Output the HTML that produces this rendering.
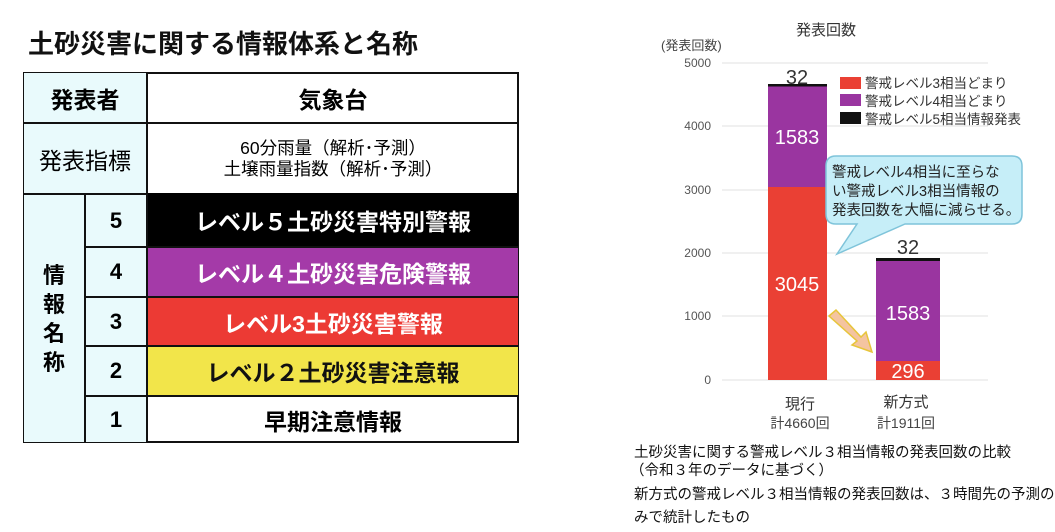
<!DOCTYPE html>
<html><head><meta charset="utf-8"><style>
body{margin:0;width:1055px;height:532px;background:#fff;position:relative;overflow:hidden;font-family:"Liberation Sans","Noto Sans CJK JP",sans-serif}
.a{position:absolute}
.c{position:absolute;display:flex;align-items:center;justify-content:center;box-sizing:border-box;text-align:center;white-space:nowrap}
.b{font-weight:bold}
</style></head><body>
<div class="a b" style="left:28px;top:24px;font-size:26px;color:#111">土砂災害に関する情報体系と名称</div>

<div class="a" style="left:23px;top:72px;width:496px;height:371px;border:2px solid #111;box-sizing:border-box"></div>
<div class="c b" style="left:24px;top:73px;width:124px;height:51px;background:#e9fafc;font-size:23px;border-right:2px solid #111;border-bottom:2px solid #111">発表者</div>
<div class="c b" style="left:148px;top:73px;width:370px;height:51px;font-size:23px;border-bottom:2px solid #111">気象台</div>
<div class="c" style="left:24px;top:124px;width:124px;height:69px;background:#e9fafc;font-size:23px;border-right:2px solid #111">発表指標</div>
<div class="c" style="left:148px;top:124px;width:370px;height:69px;font-size:17.5px;line-height:21px">60分雨量（解析･予測）<br>土壌雨量指数（解析･予測）</div>
<div class="c b" style="left:24px;top:193px;width:62px;height:249px;background:#e9fafc;font-size:22px;line-height:29px;border-right:2px solid #111;border-top:2px solid #111">情<br>報<br>名<br>称</div>

<div class="c b" style="left:86px;top:193px;width:62px;height:53px;background:#e9fafc;font-size:22px;border-right:2px solid #111;border-top:2px solid #111">5</div>
<div class="c b" style="left:148px;top:193px;width:370px;height:53px;background:#000;color:#fff;font-size:23px">レベル５土砂災害特別警報</div>
<div class="c b" style="left:86px;top:246px;width:62px;height:50px;background:#e9fafc;font-size:22px;border-right:2px solid #111;border-top:2px solid #111">4</div>
<div class="c b" style="left:148px;top:246px;width:370px;height:50px;background:#a43aa8;color:#fff;font-size:23px;border-top:2px solid #111">レベル４土砂災害危険警報</div>
<div class="c b" style="left:86px;top:296px;width:62px;height:49px;background:#e9fafc;font-size:22px;border-right:2px solid #111;border-top:2px solid #111">3</div>
<div class="c b" style="left:148px;top:296px;width:370px;height:49px;background:#ec3a34;color:#fff;font-size:23px;border-top:2px solid #111">レベル3土砂災害警報</div>
<div class="c b" style="left:86px;top:345px;width:62px;height:50px;background:#e9fafc;font-size:22px;border-right:2px solid #111;border-top:2px solid #111">2</div>
<div class="c b" style="left:148px;top:345px;width:370px;height:50px;background:#f2e54a;color:#111;font-size:23px;border-top:2px solid #111">レベル２土砂災害注意報</div>
<div class="c b" style="left:86px;top:395px;width:62px;height:47px;background:#e9fafc;font-size:22px;border-right:2px solid #111;border-top:2px solid #111">1</div>
<div class="c b" style="left:148px;top:395px;width:370px;height:47px;font-size:23px;border-top:2px solid #111">早期注意情報</div>

<svg class="a" style="left:0;top:0" width="1055" height="532">
<g font-family="Liberation Sans,Noto Sans CJK JP,sans-serif">
<text x="826" y="35" font-size="15" fill="#333" text-anchor="middle">発表回数</text>
<text x="661" y="50" font-size="13" fill="#444">(発表回数)</text>
<g stroke="#e2e2e2" stroke-width="1">
<line x1="722" x2="988" y1="63" y2="63"/><line x1="722" x2="988" y1="126" y2="126"/>
<line x1="722" x2="988" y1="190" y2="190"/><line x1="722" x2="988" y1="253" y2="253"/>
<line x1="722" x2="988" y1="316" y2="316"/><line x1="722" x2="988" y1="380" y2="380"/></g>
<g font-size="12" fill="#555" text-anchor="end">
<text x="711" y="67">5000</text><text x="711" y="130">4000</text><text x="711" y="194">3000</text>
<text x="711" y="257">2000</text><text x="711" y="320">1000</text><text x="711" y="384">0</text></g>
<rect x="768" y="187" width="59" height="193" fill="#ea4034"/>
<rect x="768" y="86" width="59" height="101" fill="#9a35a0"/>
<rect x="768" y="84" width="59" height="2.5" fill="#111"/>
<rect x="876" y="361" width="64" height="19" fill="#ea4034"/>
<rect x="876" y="261" width="64" height="100" fill="#9a35a0"/>
<rect x="876" y="258" width="64" height="3" fill="#111"/>
<g font-size="20" fill="#fff" text-anchor="middle">
<text x="797" y="144">1583</text><text x="797" y="291">3045</text>
<text x="908" y="320">1583</text><text x="908" y="378">296</text></g>
<g font-size="20" fill="#333" text-anchor="middle"><text x="797" y="84">32</text><text x="908" y="254">32</text></g>
<rect x="840" y="77" width="21" height="12" fill="#ea4034"/>
<rect x="840" y="94" width="21" height="12" fill="#9a35a0"/>
<rect x="840" y="112" width="21" height="12" fill="#111"/>
<g font-size="13.5" fill="#333"><text x="865" y="88">警戒レベル3相当どまり</text>
<text x="865" y="106">警戒レベル4相当どまり</text><text x="865" y="124">警戒レベル5相当情報発表</text></g>
<path d="M836 156 H1012 Q1022 156 1022 166 V214 Q1022 224 1012 224 H905 L837 254 L857 224 H836 Q826 224 826 214 V166 Q826 156 836 156Z" fill="#c6eef8" stroke="#7fc4da" stroke-width="1.5"/>
<g font-size="14.5" fill="#222"><text x="832" y="177">警戒レベル4相当に至らな</text>
<text x="832" y="196">い警戒レベル3相当情報の</text><text x="832" y="215">発表回数を大幅に減らせる。</text></g>
<path d="M829 316 L836 310 L861 337 L866 332 L872 352 L852 345 L857 341Z" fill="#f4c4a0" stroke="#e7c53a" stroke-width="1.5"/>
<g font-size="15" fill="#333" text-anchor="middle"><text x="800" y="409">現行</text><text x="906" y="407">新方式</text></g>
<g font-size="14" fill="#444" text-anchor="middle"><text x="800" y="428">計4660回</text><text x="906" y="428">計1911回</text></g>
<g font-size="14.5" fill="#111"><text x="634" y="457">土砂災害に関する警戒レベル３相当情報の発表回数の比較</text>
<text x="630" y="475">（令和３年のデータに基づく）</text>
<text x="634" y="499">新方式の警戒レベル３相当情報の発表回数は、３時間先の予測の</text>
<text x="634" y="522">みで統計したもの</text></g>
</g></svg>
</body></html>
